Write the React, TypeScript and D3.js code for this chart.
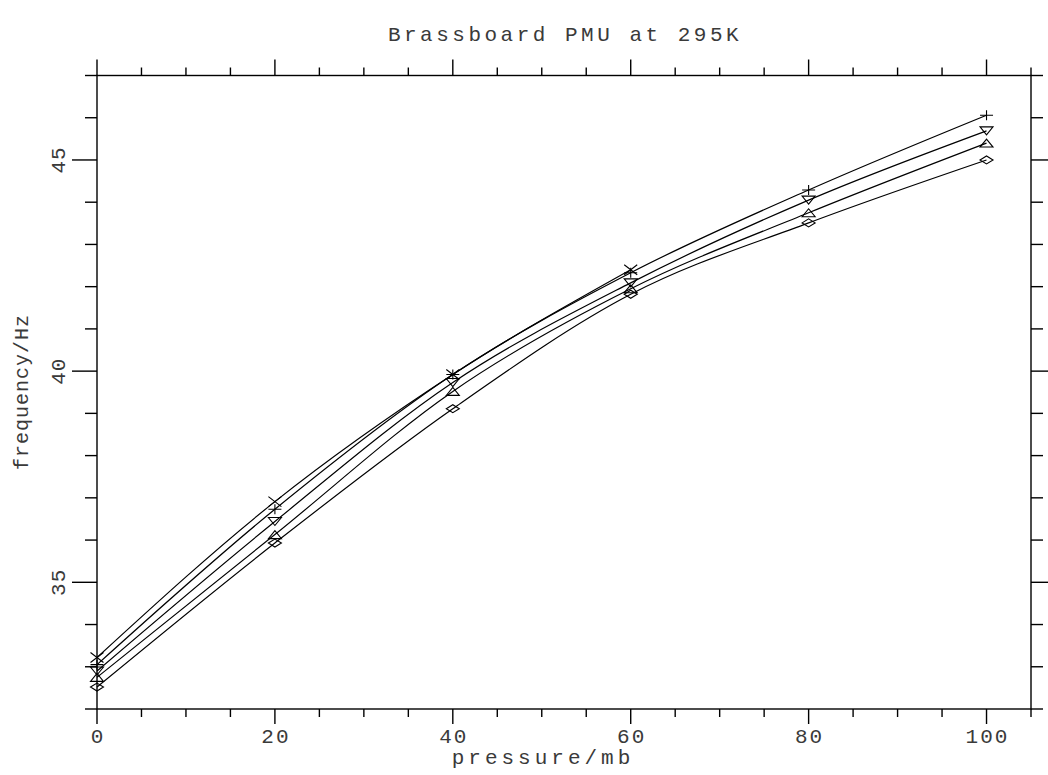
import React from "react";
import * as d3 from "d3";

const title = "Brassboard PMU at 295K";
const xLabel = "pressure/mb";
const yLabel = "frequency/Hz";

const pressure = [0, 20, 40, 60, 80, 100];
const crossPressure = [0, 20, 40, 60];
const crossFreq = [33.22, 36.91, 39.92, 42.4];
const plusFreq = [33.05, 36.73, 39.92, 42.33, 44.29, 46.06];
const downFreq = [32.9, 36.44, 39.73, 42.09, 44.05, 45.69];
const upFreq = [32.75, 36.13, 39.52, 41.95, 43.75, 45.4];
const diamondFreq = [32.52, 35.93, 39.11, 41.82, 43.51, 45.0];

const xMajorTicks = [0, 20, 40, 60, 80, 100];
const xMinorTicks = d3.range(0, 106, 5);
const yMajorTicks = [35, 40, 45];
const yMinorTicks = d3.range(32, 48, 1);

type Series = { xs: number[]; ys: number[]; marker: string };
const series: Series[] = [
  { xs: crossPressure, ys: crossFreq, marker: "cross" },
  { xs: pressure, ys: plusFreq, marker: "plus" },
  { xs: pressure, ys: downFreq, marker: "down" },
  { xs: pressure, ys: upFreq, marker: "up" },
  { xs: pressure, ys: diamondFreq, marker: "diamond" },
];

const W = 1048;
const H = 775;
const L = 97, R = 1031, T = 75.5, B = 709;

const x = d3.scaleLinear().domain([0, 105]).range([L, R]);
const y = d3.scaleLinear().domain([32, 47]).range([B, T]);

const FONT = "'Liberation Mono', 'DejaVu Sans Mono', monospace";
const TXT = "#3a3a3a";

function markerPath(kind: string): string {
  const w = 6.5, h = 4;
  switch (kind) {
    case "cross":
      return `M${-w},${-5}L${w},${5}M${-w},${5}L${w},${-5}`;
    case "plus":
      return `M${-w},0L${w},0M0,${-5}L0,${5}`;
    case "down":
      return `M${-w},${-h}L${w},${-h}L0,${h}Z`;
    case "up":
      return `M${-w},${h}L${w},${h}L0,${-h}Z`;
    default:
      return `M${-w},0L0,${-h}L${w},0L0,${h}Z`;
  }
}

export default function App() {
  const line = d3
    .line<[number, number]>()
    .x((d) => x(d[0]))
    .y((d) => y(d[1]))
    .curve(d3.curveMonotoneX);

  return (
    <svg
      width={W}
      height={H}
      style={{ position: "absolute", left: 0, top: 0, background: "#fff" }}
    >
      <rect x={0} y={0} width={W} height={H} fill="#fff" />
      <rect x={L} y={T} width={R - L} height={B - T} fill="none" stroke="#000" strokeWidth={1.4} />
      {xMinorTicks.map((v) => {
        const major = xMajorTicks.includes(v);
        return (
          <g key={"xt" + v}>
            <line x1={x(v)} x2={x(v)} y1={B} y2={B + (major ? 15 : 8)} stroke="#000" strokeWidth={1.4} />
            <line x1={x(v)} x2={x(v)} y1={T} y2={T - (major ? 16 : 8)} stroke="#000" strokeWidth={1.4} />
          </g>
        );
      })}
      {yMinorTicks.map((v) => {
        const major = yMajorTicks.includes(v);
        return (
          <g key={"yt" + v}>
            <line x1={L} x2={L - (major ? 25 : 12)} y1={y(v)} y2={y(v)} stroke="#000" strokeWidth={1.4} />
            <line x1={R} x2={R + (major ? 25 : 12)} y1={y(v)} y2={y(v)} stroke="#000" strokeWidth={1.4} />
          </g>
        );
      })}
      {xMajorTicks.map((v) => (
        <text
          key={"xl" + v}
          x={x(v) + 1}
          y={743}
          textAnchor="middle"
          fontFamily={FONT}
          fontSize={21}
          letterSpacing={2}
          fill={TXT}
        >
          {v}
        </text>
      ))}
      {yMajorTicks.map((v) => (
        <text
          key={"yl" + v}
          transform={`translate(65,${y(v)}) rotate(-90)`}
          textAnchor="middle"
          fontFamily={FONT}
          fontSize={21}
          letterSpacing={1}
          fill={TXT}
        >
          {v}
        </text>
      ))}
      <text x={565} y={41} textAnchor="middle" fontFamily={FONT} fontSize={21} letterSpacing={3.5} fill={TXT}>
        {title}
      </text>
      <text x={543} y={764} textAnchor="middle" fontFamily={FONT} fontSize={21} letterSpacing={4} fill={TXT}>
        {xLabel}
      </text>
      <text
        transform={`translate(28,392) rotate(-90)`}
        textAnchor="middle"
        fontFamily={FONT}
        fontSize={20}
        letterSpacing={1}
        fill={TXT}
      >
        {yLabel}
      </text>
      {series.map((s, i) => {
        const pts: [number, number][] = s.xs.map((xv, j) => [xv, s.ys[j]]);
        return (
          <g key={"s" + i}>
            <path d={line(pts) || ""} fill="none" stroke="#000" strokeWidth={1.2} />
            {pts.map((p, j) => (
              <path
                key={j}
                d={markerPath(s.marker)}
                transform={`translate(${x(p[0])},${y(p[1])})`}
                fill="none"
                stroke="#000"
                strokeWidth={1.1}
              />
            ))}
          </g>
        );
      })}
    </svg>
  );
}
